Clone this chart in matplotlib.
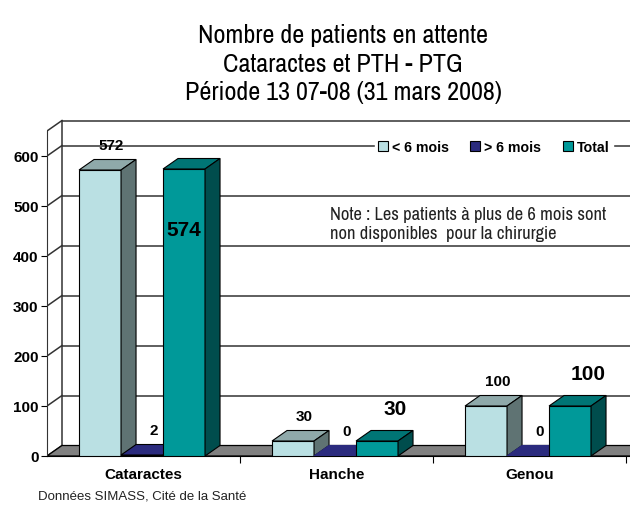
import numpy as np
import matplotlib
matplotlib.use('Agg')
import matplotlib.pyplot as plt
from matplotlib import font_manager
from matplotlib.patches import Polygon, Patch

categories = ['Cataractes', 'Hanche', 'Genou']
series_names = ['< 6 mois', '> 6 mois', 'Total']
moins_6 = [572, 30, 100]
plus_6 = [2, 0, 0]
total = [574, 30, 100]
yticks = [0, 100, 200, 300, 400, 500, 600]
ytop = 650

# front, top, side colours of each series
face_colors = [
    ('#BAE0E3', '#8FA9AA', '#5F7373'),
    ('#2B2B7E', '#2B2B7E', '#1E1E5A'),
    ('#009999', '#007575', '#004D4D'),
]

plt.rcParams['font.family'] = ['Liberation Sans', 'DejaVu Sans']

# look for a narrow font (Arial Narrow look-alike)
narrow_file = None
for key in ['LiberationSansNarrow-Regular', 'SansNarrow', 'Narrow', 'DejaVuSansCondensed.', 'Condensed']:
    for f in font_manager.fontManager.ttflist:
        name = f.fname.split('/')[-1]
        if key in name and 'Bold' not in name and 'Oblique' not in name and 'Italic' not in name:
            narrow_file = f.fname
            break
    if narrow_file:
        break


def narrow_font(size):
    if narrow_file:
        return font_manager.FontProperties(fname=narrow_file, size=size)
    return font_manager.FontProperties(family='Liberation Sans', size=size * 0.85)


fig = plt.figure(figsize=(6.3, 5.1), dpi=100)
ax = fig.add_axes([47 / 630, 53 / 510, 583 / 630, 347 / 510])
xmax = 583 / 193
ax.set_xlim(0, xmax)
ax.set_ylim(0, 694)

dx = 0.0777   # depth offset in category units
dy = 21       # depth offset in value units
w = 0.2176    # bar width
off = 0.166   # gap before first bar of a group

# back wall: grid lines and side diagonals
for v in yticks + [ytop]:
    ax.plot([0, dx], [v, v + dy], color='#333333', lw=1.1, zorder=1)
    ax.plot([dx, xmax + dx], [v + dy, v + dy], color='#333333', lw=1.1, zorder=1)
ax.plot([dx, dx], [dy, ytop + dy], color='#333333', lw=1.1, zorder=1)

# floor
ax.add_patch(Polygon([(0, 0), (xmax, 0), (xmax + dx, dy), (dx, dy)],
                     closed=True, fc='#808080', ec='black', lw=0.9, zorder=2))


def bar3d(x0, h, cols):
    cf, ct, cs = cols
    ec = 'black'
    ax.add_patch(Polygon([(x0, 0), (x0 + w, 0), (x0 + w, h), (x0, h)],
                         fc=cf, ec=ec, lw=0.8, zorder=3))
    ax.add_patch(Polygon([(x0, h), (x0 + w, h), (x0 + w + dx, h + dy), (x0 + dx, h + dy)],
                         fc=ct, ec=ec if h > 0 else ct, lw=0.8, zorder=3))
    ax.add_patch(Polygon([(x0 + w, 0), (x0 + w + dx, dy), (x0 + w + dx, h + dy), (x0 + w, h)],
                         fc=cs, ec=ec if h > 0 else ct, lw=0.8, zorder=3))


series = [moins_6, plus_6, total]
for i in range(len(categories)):
    for s, vals in enumerate(series):
        x0 = i + off + s * w
        bar3d(x0, vals[i], face_colors[s])
        xc = x0 + w / 2
        if s < 2:
            ax.text(xc + dx * 0.75, vals[i] + dy + 28, str(vals[i]), ha='center', va='center',
                    fontsize=11, fontweight='bold', zorder=5)
        else:
            if vals[i] + 90 > ytop:
                ax.text(xc, vals[i] - 122, str(vals[i]), ha='center', va='center',
                        fontsize=15, fontweight='bold', zorder=5)
            else:
                ax.text(xc + dx * 1.2, vals[i] + 64, str(vals[i]), ha='center', va='center',
                        fontsize=15, fontweight='bold', zorder=5)

# axes
for sp in ['top', 'right']:
    ax.spines[sp].set_visible(False)
ax.spines['left'].set_bounds(0, ytop)
ax.spines['left'].set_color('#333333')
ax.spines['bottom'].set_color('black')
ax.set_yticks(yticks)
ax.set_yticklabels([str(t) for t in yticks], fontsize=11, fontweight='bold')
ax.tick_params(axis='y', direction='out', length=4, pad=2)
ax.set_xticks([1, 2, 3])
ax.set_xticklabels([])
ax.tick_params(axis='x', which='major', direction='out', length=5)
ax.set_xticks([i + 0.5 for i in range(len(categories))], minor=True)
ax.set_xticklabels(categories, minor=True, fontsize=11, fontweight='bold')
ax.tick_params(axis='x', which='minor', length=0, pad=8)
ax.patch.set_alpha(0)

# legend
handles = [Patch(fc=c[0], ec='black', lw=0.8) for c in face_colors]
leg = fig.legend(handles, series_names, loc='center left',
                 bbox_to_anchor=(368 / 630, 1 - 148 / 510), ncol=3,
                 prop={'weight': 'bold', 'size': 10.2}, handlelength=0.7, handleheight=0.7,
                 handletextpad=0.3, columnspacing=1.5, borderpad=0.2,
                 frameon=True, fancybox=False, framealpha=1)
leg.get_frame().set_edgecolor('white')

# texts
fig.text(343 / 630, 1 - 64 / 510,
         'Nombre de patients en attente\nCataractes et PTH - PTG\nPériode 13 07-08 (31 mars 2008)',
         ha='center', va='center', multialignment='center',
         fontproperties=narrow_font(18.8), linespacing=1.3)
fig.text(330 / 630, 1 - 207 / 510,
         'Note : Les patients à plus de 6 mois sont\nnon disponibles  pour la chirurgie',
         ha='left', va='top', fontproperties=narrow_font(13.3), linespacing=1.22, color='#222222')
fig.text(38 / 630, 1 - 497 / 510, 'Données SIMASS, Cité de la Santé',
         ha='left', va='center', fontsize=9.5, color='#222222')

fig.savefig('out.png', dpi=100)
